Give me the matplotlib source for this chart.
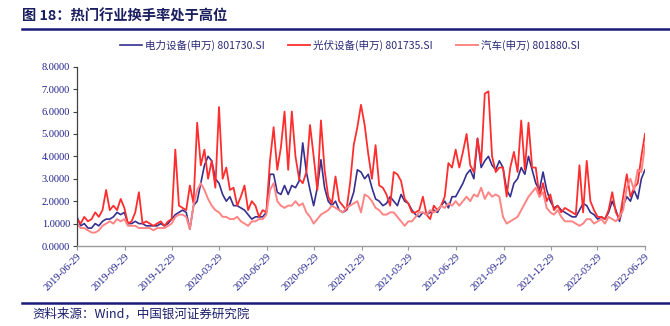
import matplotlib
matplotlib.use("Agg")
import matplotlib.pyplot as plt
import matplotlib.transforms as mtransforms
from matplotlib.lines import Line2D
import pandas as pd

# ---------------- data (weekly readings) ----------------
elec_equip = [  # 电力设备(申万) 801730.SI
    1.3, 0.9, 1.0, 0.8, 0.8, 1.0, 0.9, 1.1, 1.2, 1.2, 1.3, 1.5, 1.4,
    1.5, 1.0, 1.0, 1.1, 1.0, 1.0, 0.9, 0.9, 0.9, 0.9, 1.0, 0.9, 1.0,
    1.2, 1.4, 1.5, 1.6, 1.5, 0.75, 1.8, 2.0, 2.8, 3.6, 4.0, 3.8, 3.0,
    2.8, 2.3, 2.0, 2.2, 1.8, 1.8, 1.7, 1.6, 1.4, 1.2, 1.3, 1.3, 1.3,
    1.5, 3.2, 3.2, 2.4, 2.3, 2.7, 2.3, 2.7, 2.6, 2.9, 4.6, 3.3, 2.5,
    1.8, 2.6, 3.85, 2.6, 2.0, 1.8, 2.0, 1.6, 1.5, 1.6, 1.9, 2.4, 3.4,
    3.3, 3.0, 3.2, 2.6, 2.1, 2.0, 1.8, 1.9, 2.2, 2.0, 1.8, 2.3, 2.0,
    1.9, 1.6, 1.4, 1.3, 1.5, 1.4, 1.5, 1.6, 1.5, 1.8, 2.0, 1.7, 2.2,
    2.2, 2.5, 2.8, 3.2, 3.4, 3.0, 4.8, 3.5, 3.8, 4.0, 3.6, 3.4, 3.8,
    3.5, 2.5, 2.2, 2.8, 3.0, 3.5, 3.2, 4.0, 3.4, 2.8, 2.5, 3.3, 2.5,
    2.0, 1.7, 1.8, 1.6, 1.5, 1.4, 1.3, 1.3, 1.6, 1.9, 1.8, 1.5, 1.4,
    1.2, 1.3, 1.2, 1.5, 2.0, 1.6, 1.1, 1.8, 2.2, 2.0, 2.5, 2.1, 3.0, 3.4,
]
pv_equip = [  # 光伏设备(申万) 801735.SI
    1.2, 1.0, 1.3, 1.1, 1.2, 1.5, 1.3, 1.6, 2.5, 1.6, 1.8, 1.6, 2.1,
    1.7, 1.0, 1.1, 1.5, 2.4, 1.0, 1.1, 1.0, 0.9, 1.0, 1.1, 0.9, 1.1,
    1.2, 4.3, 1.8, 1.7, 1.6, 2.7, 1.9, 5.5, 3.6, 4.3, 3.0, 3.8, 2.6,
    6.2, 3.0, 3.5, 2.5, 2.6, 1.8, 2.2, 2.7, 1.6, 2.0, 1.8, 1.3, 1.6,
    1.5, 3.8, 5.3, 3.4, 4.4, 6.0, 3.4, 6.0, 4.0, 3.0, 2.8, 3.3, 5.4,
    4.0, 2.5, 5.6, 3.4, 2.2, 1.9, 3.1, 2.0, 1.8, 1.6, 2.8, 4.5, 5.3,
    6.3, 5.4, 4.1, 3.0, 4.5, 2.7, 2.6, 2.3, 1.8, 3.3, 3.2, 2.9, 2.1,
    1.9, 1.5, 1.5, 1.6, 2.2, 1.4, 1.2, 1.8, 1.6, 1.8, 2.2, 3.7, 3.5,
    4.3, 3.5, 4.2, 5.0, 3.6, 3.3, 4.8, 3.7, 6.8, 6.9, 4.0, 3.3, 3.5,
    3.5, 2.2, 3.5, 4.2, 3.3, 5.6, 3.4, 5.5, 3.5, 3.5, 2.2, 2.8, 2.0,
    2.3, 1.6, 1.8, 1.5, 1.7, 1.6, 1.5, 1.4, 3.6, 1.5, 3.8, 2.0, 1.6,
    1.3, 1.3, 1.2, 1.6, 2.4, 1.5, 1.2, 2.2, 3.2, 2.2, 2.6, 2.8, 4.0, 5.0,
]
auto = [  # 汽车(申万) 801880.SI
    1.0, 0.8, 0.8, 0.7, 0.6, 0.6, 0.7, 0.9, 1.0, 1.1, 1.0, 1.2, 1.1,
    1.2, 0.9, 0.9, 0.9, 0.8, 0.8, 0.8, 0.8, 0.7, 0.8, 0.8, 0.8, 0.9,
    1.0, 1.3, 1.4, 1.4, 1.3, 0.75, 1.8, 2.5, 2.8, 2.5, 2.1, 1.8, 1.6,
    1.5, 1.3, 1.3, 1.2, 1.2, 1.3, 1.1, 1.0, 0.9, 1.1, 1.1, 1.2, 1.2,
    1.4, 2.5, 2.8, 2.0, 1.8, 1.7, 1.8, 1.8, 2.0, 1.8, 1.9, 1.5, 1.3,
    1.0, 1.2, 1.4, 1.5, 1.6, 1.8, 1.7, 1.6, 1.5, 1.7, 1.8, 1.9, 2.0,
    1.5, 2.3, 2.2, 2.0, 1.7, 1.6, 1.4, 1.4, 1.5, 1.5, 1.3, 1.1, 0.9,
    1.1, 1.1, 1.3, 1.5, 1.5, 1.4, 1.6, 1.5, 1.6, 1.8, 1.7, 1.9, 1.8,
    2.0, 1.8, 2.0, 2.2, 2.0, 2.3, 2.2, 2.6, 2.1, 2.4, 2.2, 2.3, 2.2,
    1.3, 1.0, 1.1, 1.2, 1.3, 1.6, 1.9, 2.2, 2.4, 2.6, 2.2, 2.4, 1.7,
    1.5, 1.4, 1.6, 1.3, 1.1, 1.1, 1.1, 1.0, 0.9, 1.0, 1.2, 1.2, 1.0,
    1.1, 1.2, 1.0, 1.3, 1.2, 1.1, 1.3, 1.6, 2.6, 3.0, 2.5, 3.4, 3.3, 4.5,
]
series_names = ["电力设备(申万) 801730.SI", "光伏设备(申万) 801735.SI", "汽车(申万) 801880.SI"]
tick_labels = ["2019-06-29", "2019-09-29", "2019-12-29", "2020-03-29", "2020-06-29",
               "2020-09-29", "2020-12-29", "2021-03-29", "2021-06-29", "2021-09-29",
               "2021-12-29", "2022-03-29", "2022-06-29"]
y_ticks = [0, 1, 2, 3, 4, 5, 6, 7, 8]

dates = pd.date_range("2019-06-29", "2022-06-29", periods=len(pv_equip))

# ---------------- figure ----------------
W, H = 670, 326
fig = plt.figure(figsize=(W / 100, H / 100), dpi=100)
ax = fig.add_axes([77 / W, 1 - 246 / H, (645 - 77) / W, (246 - 66.7) / H])

cjk = ["Noto Sans CJK SC", "DejaVu Sans"]
navy = "#1f1f8a"

c_blue, c_red, c_pink = "#35308f", "#ff2e2e", "#ff8585"
ax.plot(dates, elec_equip, color=c_blue, lw=1.2, label=series_names[0])
ax.plot(dates, pv_equip, color=c_red, lw=1.3, label=series_names[1])
ax.plot(dates, auto, color=c_pink, lw=1.4, label=series_names[2])

tick_dates = pd.to_datetime(tick_labels)
ax.set_xlim(tick_dates[0], tick_dates[-1])
ax.set_ylim(0, 8)
ax.set_yticks(y_ticks)
ax.set_yticklabels([f"{v:.4f}" for v in y_ticks], family="Liberation Serif",
                   fontsize=7.5, color=navy)
ax.set_xticks(tick_dates)
ax.set_xticklabels(tick_labels, rotation=45, ha="right", va="top",
                   rotation_mode="anchor", family="Liberation Serif",
                   fontsize=7.5, color=navy)
offset = mtransforms.ScaledTranslation(2 / 100, 0, fig.dpi_scale_trans)
for lab in ax.get_xticklabels():
    lab.set_transform(lab.get_transform() + offset)

for s in ["top", "right"]:
    ax.spines[s].set_visible(False)
ax.spines["left"].set_color("#404040")
ax.spines["left"].set_linewidth(0.9)
ax.spines["bottom"].set_color("#9a9a9a")
ax.spines["bottom"].set_linewidth(1.0)
ax.tick_params(axis="y", direction="out", length=3, width=0.8, color="#404040", pad=2)
ax.tick_params(axis="x", direction="out", length=3, width=0.8, color="#9a9a9a", pad=1.5)

# legend
fig.legend(loc="center", bbox_to_anchor=(350 / W, 1 - 45 / H), ncol=3, frameon=False,
           prop={"family": cjk, "size": 7.6}, labelcolor="#2b2b78",
           handlelength=2.1, handletextpad=0.3, columnspacing=2.2)

# title & rules
fig.text(22 / W, 1 - 17 / H, "图 18：热门行业换手率处于高位", fontsize=10.3,
         fontweight="bold", color="#1b1f5f", va="center", ha="left", family=cjk)
fig.add_artist(Line2D([22 / W, 1], [1 - 28.5 / H] * 2, transform=fig.transFigure,
                      color="#1a1a78", lw=1.8))
fig.add_artist(Line2D([22 / W, 1], [1 - 303.3 / H] * 2, transform=fig.transFigure,
                      color="#1a1a78", lw=1.8))
fig.text(32 / W, 1 - 314 / H, "资料来源：Wind，中国银河证券研究院", fontsize=9,
         color="#1b1f6b", va="center", ha="left", family=cjk)

fig.savefig("out.png", dpi=100)
